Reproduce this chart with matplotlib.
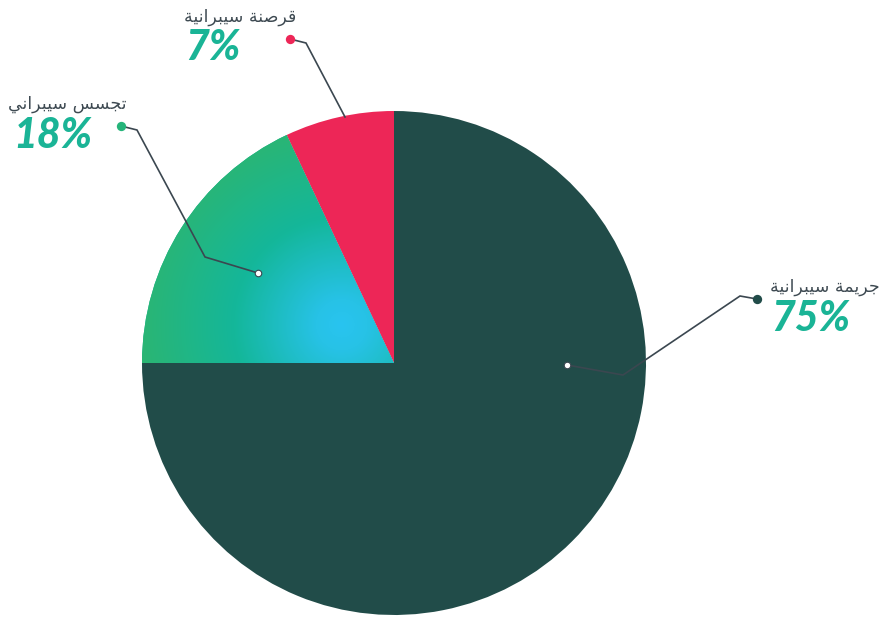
import matplotlib
matplotlib.use("Agg")
import matplotlib.pyplot as plt
import numpy as np

# share of each category (percent)
labels = ["جريمة سيبرانية", "تجسس سيبراني", "قرصنة سيبرانية"]
shares = [75, 18, 7]
colors = ["#214c49", "#14b79a", "#ed2657"]
dot_colors = ["#214c49", "#25b47a", "#ed2657"]

W, H = 883, 617
CX, CY, R = 394, H - 363, 252

# arabic letter forms: isolated, final, initial, medial
FORMS = {
    "ا": ("\uFE8D", "\uFE8E", None, None),
    "ب": ("\uFE8F", "\uFE90", "\uFE91", "\uFE92"),
    "ة": ("\uFE93", "\uFE94", None, None),
    "ت": ("\uFE95", "\uFE96", "\uFE97", "\uFE98"),
    "ج": ("\uFE9D", "\uFE9E", "\uFE9F", "\uFEA0"),
    "ر": ("\uFEAD", "\uFEAE", None, None),
    "س": ("\uFEB1", "\uFEB2", "\uFEB3", "\uFEB4"),
    "ص": ("\uFEB9", "\uFEBA", "\uFEBB", "\uFEBC"),
    "ق": ("\uFED5", "\uFED6", "\uFED7", "\uFED8"),
    "م": ("\uFEE1", "\uFEE2", "\uFEE3", "\uFEE4"),
    "ن": ("\uFEE5", "\uFEE6", "\uFEE7", "\uFEE8"),
    "ي": ("\uFEF1", "\uFEF2", "\uFEF3", "\uFEF4"),
}


def shape(text):
    out = []
    for i, ch in enumerate(text):
        if ch not in FORMS:
            out.append(ch)
            continue
        prev = text[i - 1] if i > 0 else ""
        nxt = text[i + 1] if i + 1 < len(text) else ""
        join_prev = prev in FORMS and FORMS[prev][2] is not None
        join_next = FORMS[ch][2] is not None and nxt in FORMS
        iso, fin, ini, med = FORMS[ch]
        if join_prev and join_next:
            out.append(med)
        elif join_prev:
            out.append(fin)
        elif join_next:
            out.append(ini)
        else:
            out.append(iso)
    return "".join(out)[::-1]


fig = plt.figure(figsize=(W / 100, H / 100), dpi=100)
ax = fig.add_axes([0, 0, 1, 1])

wedges, _ = ax.pie(shares, colors=colors, startangle=90, counterclock=False,
                   center=(CX, CY), radius=R, frame=True,
                   wedgeprops=dict(linewidth=0))
ax.set_xlim(0, W)
ax.set_ylim(0, H)
ax.set_aspect("equal")
ax.axis("off")

# radial gradient fill on the espionage slice
gx, gy = 342, H - 325
xs = np.linspace(CX - R, CX, 300)
ys = np.linspace(CY, CY + R, 300)
XX, YY = np.meshgrid(xs, ys)
d = np.clip(np.hypot(XX - gx, YY - gy) / 215, 0, 1)
stops = np.array([[0x29, 0xc4, 0xf0], [0x27, 0xc2, 0xe6], [0x14, 0xb7, 0x9a],
                  [0x2e, 0xb5, 0x6e]]) / 255
pos = [0, 0.12, 0.5, 1]
img = np.stack([np.interp(d, pos, stops[:, k]) for k in range(3)], axis=-1)
im = ax.imshow(img, extent=(CX - R, CX, CY, CY + R), origin="lower",
               interpolation="bilinear", zorder=wedges[1].get_zorder() + 0.1)
im.set_clip_path(wedges[1])

line_c = "#3b4750"
# leader lines (pixel coords, y down)
leaders = [
    [(567, 365), (623, 375), (740, 296), (757, 299)],
    [(258, 273), (205, 257), (137, 130), (121, 126)],
    [(345, 117), (306, 43), (290, 39)],
]
for k, pts in enumerate(leaders):
    px = [p[0] for p in pts]
    py = [H - p[1] for p in pts]
    ax.plot(px, py, color=line_c, lw=1.2, zorder=5, solid_joinstyle="miter")
    ax.scatter(px[-1], py[-1], s=45, color=dot_colors[k], zorder=6, linewidths=0)
    if k < 2:
        ax.scatter(px[0], py[0], s=22, color="white", edgecolors=line_c,
                   linewidths=0.8, zorder=6)

# category and percentage labels
label_pos = [(880, 287, 771, 319), (127, 104, 13, 136), (296, 17, 185, 48)]
for k, (tx, ty, px_, py_) in enumerate(label_pos):
    ax.text(tx, H - ty, shape(labels[k]), ha="right", va="center",
            fontsize=12.5, color="#3e4a52", family="DejaVu Sans")
    ax.text(px_, H - py_, f"{shares[k]}%", ha="left", va="center",
            fontsize=29.5, color="#1ab496", family="Lato",
            fontweight=900, fontstyle="italic")

fig.savefig("out.png", dpi=100, facecolor="white")
